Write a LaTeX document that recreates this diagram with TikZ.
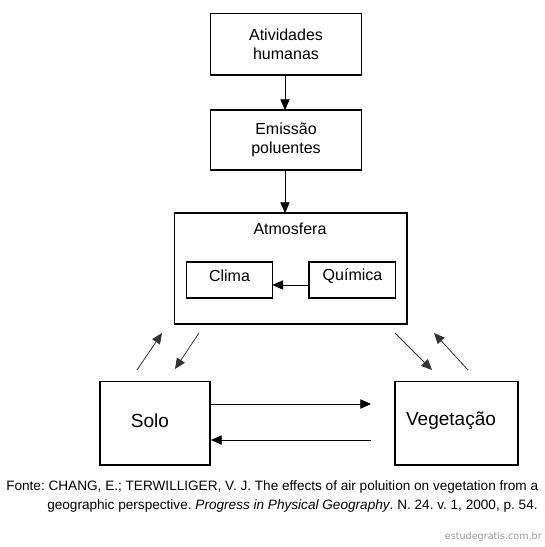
\documentclass[tikz,border=0pt]{standalone}
\usepackage{fontspec}
\setmainfont{Liberation Sans}
\newfontfamily\wmfont{DejaVu Sans}
\usetikzlibrary{arrows.meta}
\frenchspacing
\tikzset{
  box/.style={draw, line width=0.8pt, inner sep=0pt},
  lbl/.style={font=\fontsize{12}{14.25}\selectfont, align=center, inner sep=0pt},
  big/.style={font=\fontsize{14.25}{17}\selectfont, inner sep=0pt},
  arr/.style={-{Triangle[length=8pt,width=7pt]}, line width=0.6pt},
  arrg/.style={-{Triangle[length=8pt,width=7pt]}, line width=0.6pt, draw=black!80},
  foot/.style={anchor=base west, inner sep=0pt, font=\fontsize{10.2}{12}\selectfont},
}
\begin{document}
\begin{tikzpicture}[x=0.75pt,y=-0.75pt]
\useasboundingbox[fill=white] (0,0) rectangle (545,547);
% boxes
\draw[box] (210.5,13.5) rectangle (361.5,75);
\node[lbl] (ah) at (286,44) {Atividades\\humanas};
\coordinate (ahb) at (285,75);
\draw[box] (210.5,110) rectangle (361.5,170);
\node[lbl] (ep) at (286,140) {Emissão\\poluentes};
\coordinate (ept) at (285,110);
\coordinate (epb) at (285,170);
\draw[box] (174.5,213) rectangle (407,324);
\coordinate (att) at (285,213);
\node[lbl] (atm) at (290,229) {Atmosfera};
\draw[box] (186.5,262) rectangle (272.5,298);
\node[lbl] (cl) at (229.5,276) {Clima};
\draw[box] (309,262) rectangle (395.5,298);
\node[lbl] (qu) at (352.5,276) {Química};
\coordinate (clr) at (272.5,285);
\coordinate (qul) at (309,285);
\draw[box] (100,381.5) rectangle (210,465);
\node[big] (so) at (150,421) {Solo};
\draw[box] (395,381.5) rectangle (518,465);
\node[big] (ve) at (451,421) {Vegetação};
% arrows
\draw[arr] (ahb) -- (ept);
\draw[arr] (epb) -- (att);
\draw[arr] (qul) -- (clr);
\coordinate (r1a) at (211,404); \coordinate (r1b) at (371,404);
\coordinate (r2a) at (371,440); \coordinate (r2b) at (211,440);
\draw[arr] (r1a) -- (r1b);
\draw[arr] (r2a) -- (r2b);
\coordinate (d1a) at (137,370); \coordinate (d1b) at (162,333);
\coordinate (d2a) at (199,333); \coordinate (d2b) at (175,369);
\coordinate (d3a) at (395,333); \coordinate (d3b) at (432,370);
\coordinate (d4a) at (468,370); \coordinate (d4b) at (434,333);
\draw[arrg] (d1a) -- (d1b);
\draw[arrg] (d2a) -- (d2b);
\draw[arrg] (d3a) -- (d3b);
\draw[arrg] (d4a) -- (d4b);
% footnote
\node[foot] (f1) at (6,490) {Fonte: CHANG, E.; TERWILLIGER, V. J. The effects of air poluition on vegetation from a};
\node[foot] (f2) at (47,509) {geographic perspective. \textit{Progress in Physical Geography}. N. 24. v. 1, 2000, p. 54.};
\node[anchor=base east, inner sep=0pt, text=black!40, font=\wmfont\fontsize{7.2}{8}\selectfont] (wm) at (542,539) {estudegratis.com.br};
\end{tikzpicture}
\end{document}
